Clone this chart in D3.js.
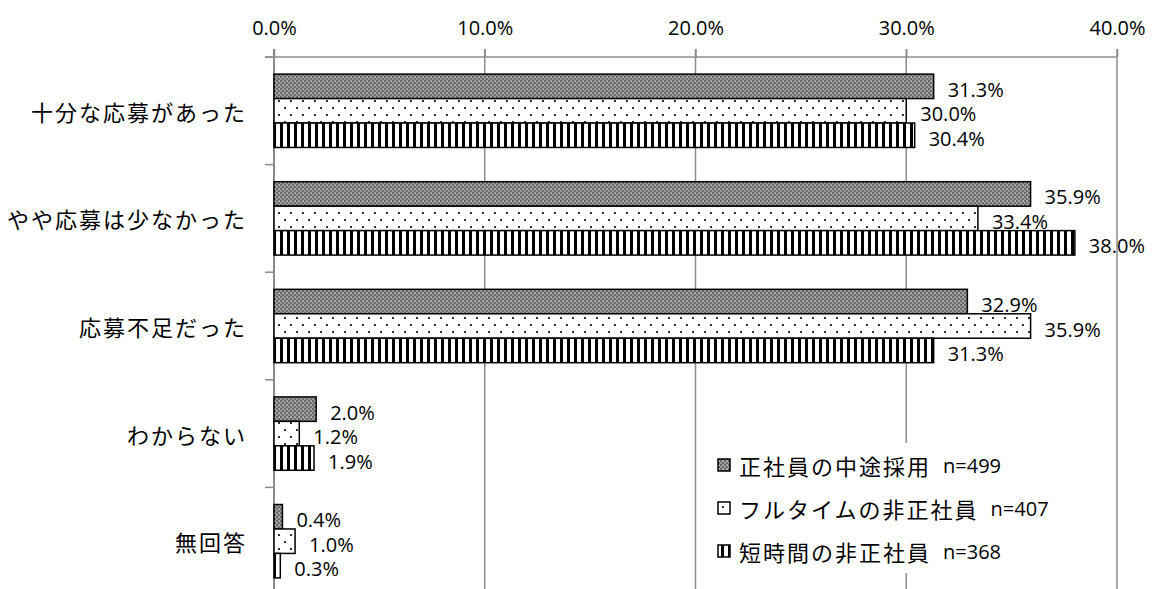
<!DOCTYPE html>
<html><head><meta charset="utf-8">
<script src="https://cdn.jsdelivr.net/npm/d3@7"></script>
<style>body{margin:0;background:#fff}svg{display:block}</style>
</head><body>
<svg id="c" width="1157" height="589"></svg>
<script>
const categories = ["十分な応募があった","やや応募は少なかった","応募不足だった","わからない","無回答"];
const seriesNames = ["正社員の中途採用","フルタイムの非正社員","短時間の非正社員"];
const seriesN = ["n=499","n=407","n=368"];
const s1 = [31.3, 35.9, 32.9, 2.0, 0.4];
const s2 = [30.0, 33.4, 35.9, 1.2, 1.0];
const s3 = [30.4, 38.0, 31.3, 1.9, 0.3];
const xTicks = [0, 10, 20, 30, 40];

const series = [s1, s2, s3];
const svg = d3.select("#c");
const numFont = "'Open Sans', Lato, sans-serif";
const jpFont = "'Noto Sans CJK JP', sans-serif";

const defs = svg.append("defs");
const p1 = defs.append("pattern").attr("id","p0").attr("patternUnits","userSpaceOnUse").attr("width",4).attr("height",4);
p1.append("rect").attr("width",4).attr("height",4).attr("fill","#9a9a9a");
p1.append("rect").attr("x",0).attr("y",0).attr("width",2).attr("height",2).attr("fill","#6a6a6a");
p1.append("rect").attr("x",2).attr("y",2).attr("width",2).attr("height",2).attr("fill","#6a6a6a");
p1.append("rect").attr("x",3).attr("y",1).attr("width",1).attr("height",1).attr("fill","#d0d0d0");
const p2 = defs.append("pattern").attr("id","p1").attr("patternUnits","userSpaceOnUse").attr("width",12).attr("height",14);
p2.append("rect").attr("width",12).attr("height",14).attr("fill","#fff");
p2.append("rect").attr("x",2).attr("y",2).attr("width",2).attr("height",2).attr("fill","#333");
p2.append("rect").attr("x",8).attr("y",9).attr("width",2).attr("height",2).attr("fill","#333");
const p3 = defs.append("pattern").attr("id","p2").attr("patternUnits","userSpaceOnUse").attr("width",7).attr("height",10);
p3.append("rect").attr("width",7).attr("height",10).attr("fill","#fff");
p3.append("rect").attr("x",0).attr("width",3).attr("height",10).attr("fill","#000");

const pL = 274, pR = 1117, pT = 57, pB = 595;
const x = d3.scaleLinear().domain([0, 40]).range([pL, pR]);
const y = d3.scaleBand().domain(categories).range([pT, pB]).paddingInner(0).paddingOuter(0);
const inner = d3.scaleBand().domain([0,1,2]).range([0, y.bandwidth()]).paddingOuter(0.7).paddingInner(0);

svg.append("g").selectAll("line").data(xTicks.slice(1)).join("line")
  .attr("x1", d => x(d)).attr("x2", d => x(d)).attr("y1", pT - 8).attr("y2", pB)
  .attr("stroke", "#8c8c8c").attr("stroke-width", 1.5);
svg.append("line").attr("x1", pL - 9).attr("x2", pR).attr("y1", pT).attr("y2", pT)
  .attr("stroke", "#8c8c8c").attr("stroke-width", 1.5);
const xAxis = d3.axisTop(x).tickValues(xTicks).tickFormat(d => d.toFixed(1) + "%").tickSize(8).tickPadding(14);
const gx = svg.append("g").attr("transform", `translate(0,${pT})`).call(xAxis);
gx.select(".domain").remove();
gx.selectAll(".tick line").attr("stroke", "#8c8c8c").attr("stroke-width", 1.5);
gx.selectAll(".tick text").attr("font-family", numFont).attr("font-size", 20).attr("fill", "#000");

const boundaries = categories.map(c => y(c)).concat([pB]);
svg.append("g").selectAll("line").data(boundaries).join("line")
  .attr("x1", pL - 9).attr("x2", pL).attr("y1", d => d).attr("y2", d => d)
  .attr("stroke", "#8c8c8c").attr("stroke-width", 1.5);
svg.append("line").attr("x1", pL).attr("x2", pL).attr("y1", pT - 8).attr("y2", pB)
  .attr("stroke", "#8c8c8c").attr("stroke-width", 2);

svg.append("g").selectAll("text").data(categories).join("text")
  .attr("x", 247).attr("y", d => y(d) + y.bandwidth() / 2)
  .attr("text-anchor", "end").attr("dominant-baseline", "central")
  .attr("font-family", jpFont).attr("font-size", 22).attr("letter-spacing", 2)
  .attr("fill", "#000").text(d => d);

svg.append("rect").attr("x", 700).attr("y", 443).attr("width", 345).attr("height", 130).attr("fill", "#fff");

series.forEach((vals, si) => {
  const g = svg.append("g");
  g.selectAll("rect").data(vals).join("rect")
    .attr("x", x(0)).attr("y", (d, i) => y(categories[i]) + inner(si))
    .attr("width", d => x(d) - x(0)).attr("height", inner.bandwidth())
    .attr("fill", `url(#p${si})`).attr("stroke", "#000").attr("stroke-width", 1.5);
  g.selectAll("text").data(vals).join("text")
    .attr("x", d => x(d) + 14).attr("y", (d, i) => y(categories[i]) + inner(si) + inner.bandwidth() / 2 + 3)
    .attr("dominant-baseline", "central")
    .attr("font-family", numFont).attr("font-size", 20).attr("fill", "#000")
    .text(d => d.toFixed(1) + "%");
});

const lg = svg.append("g");
seriesNames.forEach((name, i) => {
  const yy = 465 + i * 43;
  lg.append("rect").attr("x", 718).attr("y", yy - 6).attr("width", 12).attr("height", 12)
    .attr("fill", `url(#p${i})`).attr("stroke", "#000").attr("stroke-width", 1.5);
  const t = lg.append("text").attr("x", 739).attr("y", yy).attr("dominant-baseline", "central")
    .attr("fill", "#000");
  t.append("tspan").attr("font-family", jpFont).attr("font-size", 22).attr("letter-spacing", 2).text(name);
  t.append("tspan").attr("font-family", numFont).attr("font-size", 20).attr("dx", 12).text(seriesN[i]);
});
</script>
</body></html>
